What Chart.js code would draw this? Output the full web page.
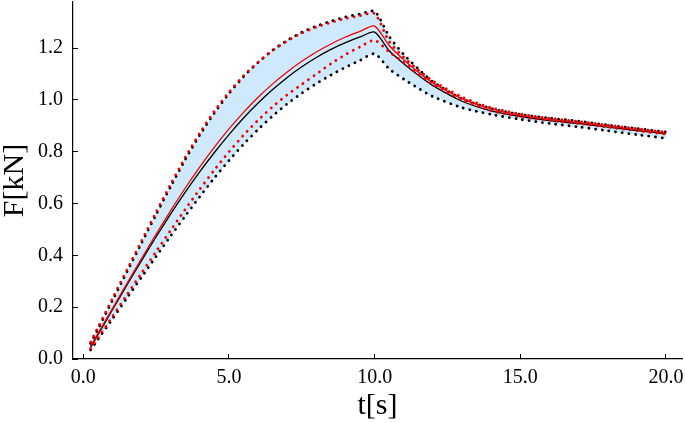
<!DOCTYPE html>
<html>
<head>
<meta charset="utf-8">
<script src="https://cdn.jsdelivr.net/npm/chart.js@4.4.1/dist/chart.umd.min.js"></script>
<style>
  html, body { margin: 0; padding: 0; background: #fff; }
  #wrap { width: 685px; height: 423px; }
</style>
</head>
<body>
<div id="wrap"><canvas id="force-chart" width="685" height="423"></canvas></div>
<script>
// time grid [s]
const tValues = [0.25, 0.5, 1, 1.5, 2, 2.5, 3, 3.5, 4, 4.5, 5, 5.5, 6, 6.5, 7, 7.5, 8, 8.5, 9, 9.5, 10,
    10.5, 11, 11.5, 12, 13, 14, 15, 16, 17, 18, 19, 20];

// force [kN]
const blackMean = [0.045, 0.093, 0.19, 0.286, 0.38, 0.472, 0.56, 0.644, 0.723, 0.797, 0.866, 0.93, 0.988, 1.04, 1.087, 1.128, 1.164, 1.195, 1.221, 1.243, 1.262,
    1.19, 1.14, 1.095, 1.055, 0.995, 0.958, 0.936, 0.92, 0.909, 0.895, 0.882, 0.869];
const blackUpper = [0.06, 0.115, 0.226, 0.337, 0.448, 0.558, 0.666, 0.77, 0.865, 0.95, 1.025, 1.09, 1.145, 1.192, 1.23, 1.261, 1.285, 1.304, 1.32, 1.332, 1.342,
    1.245, 1.175, 1.12, 1.07, 1.005, 0.967, 0.944, 0.93, 0.918, 0.903, 0.89, 0.876];
const blackLower = [0.035, 0.075, 0.155, 0.236, 0.316, 0.396, 0.475, 0.552, 0.627, 0.699, 0.766, 0.829, 0.886, 0.938, 0.985, 1.026, 1.063, 1.096, 1.126, 1.153, 1.178,
    1.12, 1.08, 1.045, 1.013, 0.97, 0.944, 0.925, 0.909, 0.896, 0.881, 0.866, 0.852];
const redMean = [0.05, 0.098, 0.195, 0.292, 0.388, 0.482, 0.573, 0.66, 0.742, 0.818, 0.888, 0.952, 1.01, 1.062, 1.108, 1.149, 1.185, 1.216, 1.243, 1.265, 1.285,
    1.21, 1.155, 1.107, 1.066, 1.005, 0.965, 0.941, 0.925, 0.913, 0.899, 0.885, 0.872];
const redUpper = [0.065, 0.121, 0.233, 0.345, 0.456, 0.567, 0.675, 0.778, 0.873, 0.957, 1.03, 1.093, 1.146, 1.191, 1.228, 1.258, 1.281, 1.299, 1.314, 1.325, 1.333,
    1.225, 1.165, 1.115, 1.073, 1.011, 0.97, 0.946, 0.929, 0.917, 0.903, 0.889, 0.876];
const redLower = [0.04, 0.08, 0.164, 0.248, 0.332, 0.415, 0.497, 0.578, 0.656, 0.73, 0.8, 0.864, 0.922, 0.974, 1.02, 1.06, 1.1, 1.14, 1.175, 1.205, 1.23,
    1.185, 1.145, 1.1, 1.06, 1.0, 0.958, 0.936, 0.921, 0.909, 0.895, 0.881, 0.868];

const xTicks = [0, 5, 10, 15, 20];
const yTicks = [0, 0.2, 0.4, 0.6, 0.8, 1.0, 1.2];

function pts(ys) {
    return tValues.map((t, i) => ({ x: t, y: ys[i] }));
}

const SERIF = "'Liberation Serif', 'DejaVu Serif', serif";
const dotted = { borderDash: [0.1, 6.6], borderCapStyle: 'round', borderWidth: 2.8 };

const datasets = [
    { label: 'red', data: pts(redMean), borderColor: '#f00000', borderWidth: 1.3 },
    { label: 'red upper', data: pts(redUpper), borderColor: '#f00000', ...dotted },
    { label: 'red lower', data: pts(redLower), borderColor: '#f00000', ...dotted },
    { label: 'black', data: pts(blackMean), borderColor: '#000000', borderWidth: 1.3 },
    { label: 'black upper', data: pts(blackUpper), borderColor: '#000000', ...dotted,
      fill: '+1', backgroundColor: '#cde9fb' },
    { label: 'black lower', data: pts(blackLower), borderColor: '#000000', ...dotted }
];
datasets.forEach(d => {
    d.pointRadius = 0;
    d.tension = 0.25;
    if (d.fill === undefined) d.fill = false;
});

new Chart(document.getElementById('force-chart').getContext('2d'), {
    type: 'line',
    data: { datasets },
    options: {
        responsive: false,
        animation: false,
        devicePixelRatio: 1,
        layout: { padding: { top: 2, right: 3, left: 0, bottom: 0 } },
        plugins: {
            legend: { display: false },
            tooltip: { enabled: false },
            filler: { drawTime: 'beforeDatasetsDraw' }
        },
        scales: {
            x: {
                type: 'linear',
                min: -0.354,
                max: 20.55,
                afterFit: s => { s.height = 64; s.paddingLeft = 0; s.paddingRight = 0; },
                afterBuildTicks: s => { s.ticks = xTicks.map(v => ({ value: v })); },
                border: { display: true, color: '#000', width: 1.2 },
                grid: { display: true, drawOnChartArea: false, drawTicks: true, tickLength: -5, color: '#000', lineWidth: 1 },
                ticks: {
                    color: '#000',
                    padding: 12,
                    maxRotation: 0,
                    font: { family: SERIF, size: 20 },
                    callback: v => v.toFixed(1)
                },
                title: {
                    display: true,
                    text: 't[s]',
                    color: '#000',
                    font: { family: SERIF, size: 30, lineHeight: 1 },
                    padding: { top: 0, bottom: 2 }
                }
            },
            y: {
                type: 'linear',
                min: 0,
                max: 1.378,
                afterFit: s => { s.width = 73; s.paddingTop = 0; s.paddingBottom = 0; },
                afterBuildTicks: s => { s.ticks = yTicks.map(v => ({ value: v })); },
                border: { display: true, color: '#000', width: 1.2 },
                grid: { display: true, drawOnChartArea: false, drawTicks: true, tickLength: -5, color: '#000', lineWidth: 1 },
                ticks: {
                    color: '#000',
                    padding: 15,
                    font: { family: SERIF, size: 20 },
                    callback: v => v.toFixed(1)
                },
                title: {
                    display: true,
                    text: 'F[kN]',
                    color: '#000',
                    font: { family: SERIF, size: 30, lineHeight: 1 },
                    padding: { top: 0, bottom: 0 }
                }
            }
        }
    }
});
</script>
</body>
</html>
